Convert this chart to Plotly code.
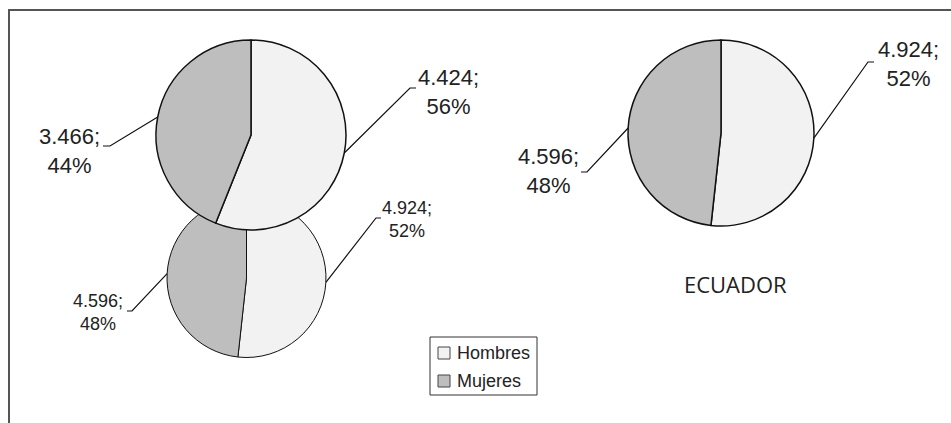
import math
import plotly.graph_objects as go

# ---- data -------------------------------------------------------------
categories = ["Hombres", "Mujeres"]
pie_a_values = [4424, 3466]      # upper-left pie
pie_b_values = [4924, 4596]      # lower-left pie
ecuador_values = [4924, 4596]    # right pie
ecuador_title = "ECUADOR"

# ---- style / layout ---------------------------------------------------
W, H = 951, 423
slice_colors = ["#f2f2f2", "#bebebe"]
label_font = "Liberation Sans, Arial, sans-serif"
text_color = "#222222"


def px(x):
    return x / W


def py(y):
    return 1 - y / H


def fmt_label(values, i):
    total = sum(values)
    num = f"{values[i]:,}".replace(",", ".")
    pct = round(100 * values[i] / total)
    return f"{num};<br>{pct}%"


# pie geometry (pixel centre, radius, outline width, label font size,
# and for each slice: elbow point, short tail end, label centre)
pies = [
    dict(values=pie_b_values, cx=246.5, cy=278, r=79.5, lw=1.0, fs=18,
         leaders=[((376, 218), (381, 218), (407, 219)),
                  ((132, 311), (127, 311), (98, 312))]),
    dict(values=pie_a_values, cx=251, cy=135, r=95, lw=1.5, fs=22,
         leaders=[((410, 88), (416, 88), (448, 92)),
                  ((110, 146), (103, 146), (69, 151))]),
    dict(values=ecuador_values, cx=721, cy=133, r=93, lw=1.5, fs=22,
         leaders=[((868, 62), (874, 62), (908, 64)),
                  ((587, 172), (581, 172), (548, 171))]),
]

fig = go.Figure()
shapes = []
annotations = []

for k, p in enumerate(pies):
    cx, cy, r = p["cx"], p["cy"], p["r"]
    fig.add_trace(go.Pie(
        labels=categories,
        values=p["values"],
        sort=False,
        direction="clockwise",
        rotation=0,
        textinfo="none",
        hoverinfo="label+value+percent",
        marker=dict(colors=slice_colors, line=dict(color="#111111", width=p["lw"])),
        domain=dict(x=[px(cx - r), px(cx + r)], y=[py(cy + r), py(cy - r)]),
        showlegend=False,
    ))
    total = sum(p["values"])
    cum = 0
    for i, v in enumerate(p["values"]):
        mid = (cum + v / 2) / total * 2 * math.pi
        cum += v
        ax = cx + r * math.sin(mid)
        ay = cy - r * math.cos(mid)
        (ex, ey), (tx, ty), (lx, ly) = p["leaders"][i]
        shapes.append(dict(
            type="path", xref="paper", yref="paper",
            path=f"M{px(ax)},{py(ay)} L{px(ex)},{py(ey)} L{px(tx)},{py(ty)}",
            line=dict(color="#111111", width=1.2),
        ))
        annotations.append(dict(
            x=px(lx), y=py(ly), xref="paper", yref="paper",
            text=fmt_label(p["values"], i), showarrow=False,
            xanchor="center", yanchor="middle", align="center",
            font=dict(family=label_font, size=p["fs"], color=text_color),
        ))

annotations.append(dict(
    x=px(735), y=py(284), xref="paper", yref="paper",
    text=ecuador_title, showarrow=False, xanchor="center", yanchor="middle",
    font=dict(family="Open Sans, sans-serif", size=22, color=text_color),
))

# legend box: one swatch + label per category
leg_x0, leg_x1, leg_y0, leg_y1 = 430, 537, 337, 395
shapes.append(dict(
    type="rect", xref="paper", yref="paper",
    x0=px(leg_x0), x1=px(leg_x1), y0=py(leg_y1), y1=py(leg_y0),
    line=dict(color="#333333", width=1), fillcolor="white",
))
for i, name in enumerate(categories):
    yc = 353 + i * 28
    shapes.append(dict(
        type="rect", xref="paper", yref="paper",
        x0=px(438), x1=px(450), y0=py(yc + 6), y1=py(yc - 6),
        line=dict(color="#444444", width=1), fillcolor=slice_colors[i],
    ))
    annotations.append(dict(
        x=px(455), y=py(yc), xref="paper", yref="paper",
        text=name, showarrow=False, xanchor="left", yanchor="middle",
        font=dict(family=label_font, size=18, color=text_color),
    ))

# outer frame (open at right and bottom edges of the page)
shapes.append(dict(
    type="rect", xref="paper", yref="paper",
    x0=px(9), x1=px(W + 20), y0=py(H + 20), y1=py(10),
    line=dict(color="#555555", width=2), layer="below",
))

fig.update_layout(
    width=W, height=H,
    margin=dict(l=0, r=0, t=0, b=0),
    paper_bgcolor="white", plot_bgcolor="white",
    shapes=shapes, annotations=annotations,
    showlegend=False,
)

fig.write_html("out.html")
